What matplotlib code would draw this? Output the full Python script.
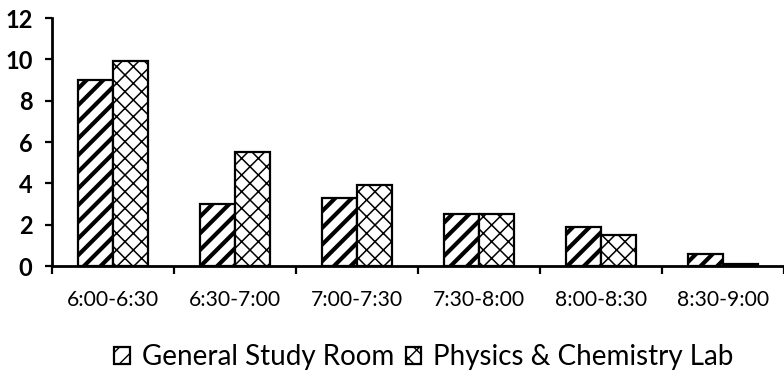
import matplotlib
matplotlib.use("Agg")
import matplotlib.pyplot as plt
import numpy as np

# Number of students in each half-hour slot
time_slots = ["6:00-6:30", "6:30-7:00", "7:00-7:30", "7:30-8:00", "8:00-8:30", "8:30-9:00"]
general_study_room = [9.0, 3.0, 3.3, 2.5, 1.9, 0.6]
physics_chemistry_lab = [9.9, 5.5, 3.9, 2.5, 1.5, 0.1]
series_names = ["General Study Room", "Physics & Chemistry Lab"]
y_ticks = [0, 2, 4, 6, 8, 10, 12]

plt.rcParams["font.family"] = ["Lato", "DejaVu Sans"]

fig = plt.figure(figsize=(7.84, 3.73), dpi=100)
ax = fig.add_axes([52 / 784, 1 - 266 / 373, 1 - 52 / 784, (266 - 18) / 373])

x = np.arange(len(time_slots))
bar_w = 0.287

with plt.rc_context({"hatch.linewidth": 3.0}):
    b1 = ax.bar(x - bar_w / 2, general_study_room, bar_w, facecolor="white",
                edgecolor="black", linewidth=1.6, hatch="//", label=series_names[0])
with plt.rc_context({"hatch.linewidth": 1.1}):
    b2 = ax.bar(x + bar_w / 2, physics_chemistry_lab, bar_w, facecolor="white",
                edgecolor="black", linewidth=1.6, hatch="xx", label=series_names[1])

ax.set_xlim(-0.5, len(time_slots) - 0.5)
ax.set_ylim(0, 12)
ax.set_yticks(y_ticks)
ax.set_yticklabels([str(v) for v in y_ticks], fontsize=17, fontweight="bold")

ax.set_xticks(x)
ax.set_xticklabels(time_slots, fontsize=15.2)
ax.set_xticks(np.arange(len(time_slots) + 1) - 0.5, minor=True)
ax.tick_params(axis="x", which="major", length=0, pad=17)
ax.tick_params(axis="x", which="minor", length=6, width=1.6, direction="out")
ax.tick_params(axis="y", length=5, width=1.6, direction="out", pad=9)

for side in ("top", "right"):
    ax.spines[side].set_visible(False)
for side in ("left", "bottom"):
    ax.spines[side].set_linewidth(2)
ax.spines["bottom"].set_zorder(5)

# legend sits roughly centred under the plot area
legend_x = ax.get_position().x0 + ax.get_position().width / 2 + 6 / 784
fig.legend(handles=[b1, b2], loc="center", bbox_to_anchor=(legend_x, 1 - 357 / 373),
           ncol=2, frameon=False, fontsize=20, handlelength=0.55, handleheight=0.55,
           handletextpad=0.43, columnspacing=0.43, borderaxespad=0, borderpad=0)

fig.savefig("out.png", dpi=100)
